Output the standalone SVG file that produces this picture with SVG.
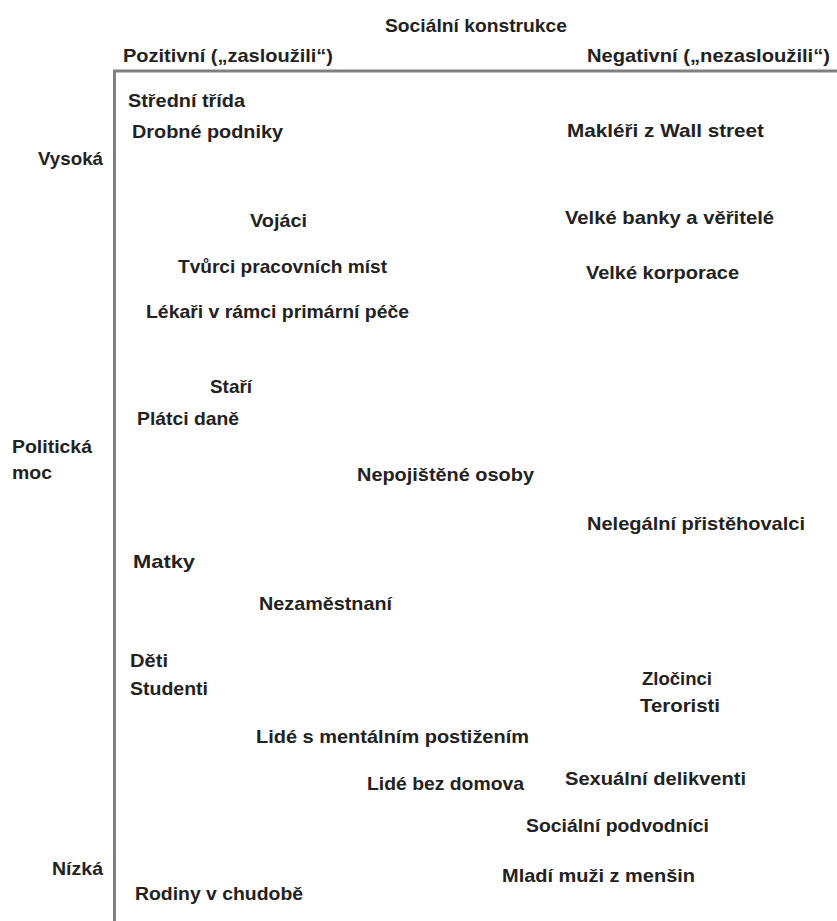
<svg xmlns="http://www.w3.org/2000/svg" width="837" height="921" viewBox="0 0 837 921">
<style>
text{font-family:"Liberation Sans",Arial,sans-serif;font-weight:bold;font-size:18.5px;fill:#222;}
.axis{stroke:#808080;stroke-width:3;fill:none;}
</style>
<rect width="837" height="921" fill="#fff"/>
<g id="connectors">
<path class="axis" d="M114.5,921 V71 H837"/>
</g>
<g id="title"><text x="385" y="32" textLength="182" lengthAdjust="spacingAndGlyphs">Sociální konstrukce</text></g>
<g id="pozitivni"><text x="123" y="62" textLength="210" lengthAdjust="spacingAndGlyphs">Pozitivní („zasloužili“)</text></g>
<g id="negativni"><text x="587" y="62" textLength="243" lengthAdjust="spacingAndGlyphs">Negativní („nezasloužili“)</text></g>
<g id="vysoka"><text x="38" y="165" textLength="65" lengthAdjust="spacingAndGlyphs">Vysoká</text></g>
<g id="politicka-moc"><text x="12" y="453" textLength="80" lengthAdjust="spacingAndGlyphs">Politická</text><text x="12" y="479" textLength="40" lengthAdjust="spacingAndGlyphs">moc</text></g>
<g id="nizka"><text x="52" y="875" textLength="51" lengthAdjust="spacingAndGlyphs">Nízká</text></g>
<g id="stredni-trida"><text x="128" y="107" textLength="117" lengthAdjust="spacingAndGlyphs">Střední třída</text></g>
<g id="drobne-podniky"><text x="132" y="138" textLength="151" lengthAdjust="spacingAndGlyphs">Drobné podniky</text></g>
<g id="makleri"><text x="567" y="137" textLength="197" lengthAdjust="spacingAndGlyphs">Makléři z Wall street</text></g>
<g id="vojaci"><text x="250" y="227" textLength="57" lengthAdjust="spacingAndGlyphs">Vojáci</text></g>
<g id="velke-banky"><text x="565" y="224" textLength="209" lengthAdjust="spacingAndGlyphs">Velké banky a věřitelé</text></g>
<g id="tvurci"><text x="178" y="273" textLength="209" lengthAdjust="spacingAndGlyphs">Tvůrci pracovních míst</text></g>
<g id="velke-korporace"><text x="586" y="279" textLength="153" lengthAdjust="spacingAndGlyphs">Velké korporace</text></g>
<g id="lekari"><text x="146" y="318" textLength="263" lengthAdjust="spacingAndGlyphs">Lékaři v rámci primární péče</text></g>
<g id="stari"><text x="210" y="393" textLength="42" lengthAdjust="spacingAndGlyphs">Staří</text></g>
<g id="platci-dane"><text x="137" y="425" textLength="102" lengthAdjust="spacingAndGlyphs">Plátci daně</text></g>
<g id="nepojistene"><text x="357" y="481" textLength="177" lengthAdjust="spacingAndGlyphs">Nepojištěné osoby</text></g>
<g id="nelegalni"><text x="587" y="530" textLength="218" lengthAdjust="spacingAndGlyphs">Nelegální přistěhovalci</text></g>
<g id="matky"><text x="133" y="568" textLength="62" lengthAdjust="spacingAndGlyphs">Matky</text></g>
<g id="nezamestnani"><text x="259" y="610" textLength="133" lengthAdjust="spacingAndGlyphs">Nezaměstnaní</text></g>
<g id="deti"><text x="130" y="667" textLength="38" lengthAdjust="spacingAndGlyphs">Děti</text></g>
<g id="studenti"><text x="130" y="695" textLength="78" lengthAdjust="spacingAndGlyphs">Studenti</text></g>
<g id="zlocinci"><text x="642" y="685" textLength="70" lengthAdjust="spacingAndGlyphs">Zločinci</text></g>
<g id="teroristi"><text x="640" y="712" textLength="80" lengthAdjust="spacingAndGlyphs">Teroristi</text></g>
<g id="mentalni"><text x="256" y="743" textLength="273" lengthAdjust="spacingAndGlyphs">Lidé s mentálním postižením</text></g>
<g id="bez-domova"><text x="367" y="790" textLength="157" lengthAdjust="spacingAndGlyphs">Lidé bez domova</text></g>
<g id="sexualni"><text x="565" y="785" textLength="181" lengthAdjust="spacingAndGlyphs">Sexuální delikventi</text></g>
<g id="podvodnici"><text x="526" y="832" textLength="183" lengthAdjust="spacingAndGlyphs">Sociální podvodníci</text></g>
<g id="mladi-muzi"><text x="502" y="882" textLength="193" lengthAdjust="spacingAndGlyphs">Mladí muži z menšin</text></g>
<g id="rodiny"><text x="135" y="900" textLength="168" lengthAdjust="spacingAndGlyphs">Rodiny v chudobě</text></g>
</svg>
